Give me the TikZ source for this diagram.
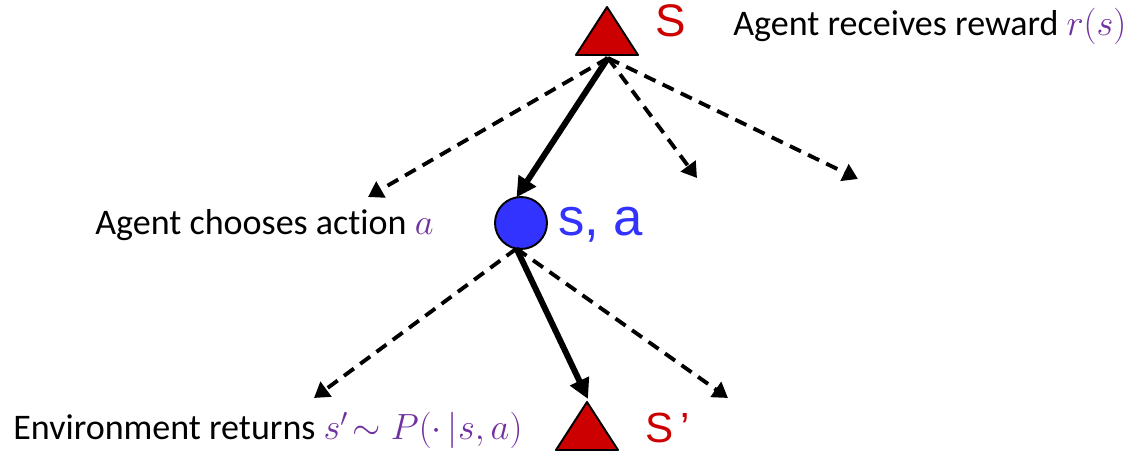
\documentclass[tikz,border=0pt]{standalone}
\usepackage{fontspec}
\setmainfont{Carlito}[Ligatures=NoCommon]
\newfontfamily\arialfont{Liberation Sans}
\usetikzlibrary{arrows.meta}
\definecolor{stred}{RGB}{204,0,0}
\definecolor{stblue}{RGB}{51,51,255}
\definecolor{mathpurple}{RGB}{112,48,160}

\begin{document}
\begin{tikzpicture}[
    x=0.02cm, y=-0.02cm,
    tri/.style={draw=black, fill=stred, line width=1.1pt, line join=round},
    qnode/.style={circle, draw=black, fill=stblue, line width=1.1pt, minimum size=1.04cm, inner sep=0pt, outer sep=0pt},
    lbl/.style={anchor=base west, inner sep=0pt, font=\fontsize{20.5}{24}\selectfont},
    statelbl/.style={anchor=base west, inner sep=0pt, font=\arialfont\fontsize{26}{30}\selectfont},
    act/.style={-{Triangle[length=0.4cm, width=0.4cm]}, line width=3.4pt},
    alt/.style={-{Triangle[length=0.3cm, width=0.36cm]}, line width=2.2pt, dash pattern=on 7pt off 4.5pt}
]
\useasboundingbox (0,0) rectangle (1134,452);
% state s
\filldraw[tri] (576,55) -- (607,7) -- (638,55) -- cycle;
\coordinate (s) at (608,58);
\node[statelbl, text=stred] (slbl) at (655,37) {S};
\node[lbl] (reward) at (733,36) {Agent receives reward \textcolor{mathpurple}{$r(s)$}};
% q-state s,a
\node[qnode] (sa) at (521,223) {};
\node[statelbl, text=stblue, font=\arialfont\fontsize{30}{34}\selectfont] (salbl) at (558,236) {s, a};
\node[lbl] (action) at (95,235) {Agent chooses action \textcolor{mathpurple}{$a$}};
% next state s'
\filldraw[tri] (556,450) -- (587,402) -- (618,450) -- cycle;
\coordinate (sp) at (588,399);
\node[statelbl, text=stred, font=\arialfont\fontsize{24}{28}\selectfont] (splbl) at (645,443) {S\,’};
\node[lbl] (env) at (13,440) {Environment returns \textcolor{mathpurple}{$s'\!\sim P(\cdot\,|s,a)$}};
% free ends
\coordinate (a1) at (368,197);
\coordinate (a2) at (697,178);
\coordinate (a3) at (858,179);
\coordinate (b1) at (314,398);
\coordinate (b2) at (728,398);
% connectors
\draw[alt] (s) -- (a1);
\draw[alt] (s) -- (a2);
\draw[alt] (s) -- (a3);
\draw[act] (s) -- (sa.100);
\draw[alt] (sa.260) -- (b1);
\draw[alt] (sa.260) -- (b2);
\draw[act] (sa.260) -- (sp);
\end{tikzpicture}
\end{document}
